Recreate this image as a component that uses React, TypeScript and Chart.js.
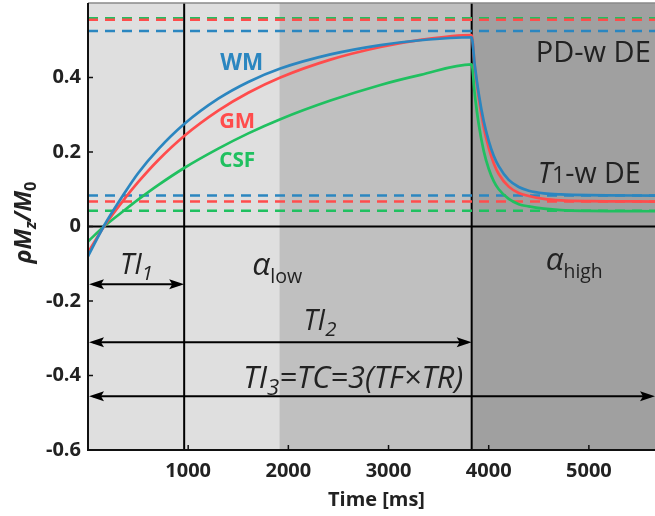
import React, { useEffect, useRef } from "react";
import { Chart, registerables } from "chart.js";

Chart.register(...registerables);

// ---- data ----
const timeMs = [0, 160, 370, 500, 700, 960, 1300, 1600, 1920, 2420, 2920, 3320, 3830, 3860, 3900, 3950, 4000, 4050, 4100, 4200, 4300, 4400, 4550, 4720, 5000, 5660];
const wmSignal = [-0.08, 0.002, 0.092, 0.143, 0.207, 0.275, 0.343, 0.388, 0.424, 0.462, 0.487, 0.5, 0.508, 0.435, 0.357, 0.283, 0.23, 0.19, 0.162, 0.125, 0.106, 0.096, 0.089, 0.086, 0.084, 0.083];
const gmSignal = [-0.07, 0.0, 0.076, 0.119, 0.178, 0.243, 0.311, 0.359, 0.4, 0.448, 0.482, 0.501, 0.514, 0.432, 0.347, 0.267, 0.211, 0.17, 0.141, 0.107, 0.09, 0.082, 0.074, 0.07, 0.068, 0.067];
const csfSignal = [-0.04, 0.0, 0.045, 0.072, 0.111, 0.157, 0.209, 0.25, 0.288, 0.338, 0.38, 0.407, 0.435, 0.357, 0.275, 0.203, 0.155, 0.122, 0.1, 0.074, 0.06, 0.054, 0.048, 0.044, 0.042, 0.041];
const tissueNames = ["WM", "GM", "CSF"];
const tissueColors = ["#2b86c0", "#ff4c4c", "#20c060"];
const pdSteadyState = [0.525, 0.555, 0.559];
const t1SteadyState = [0.083, 0.067, 0.042];
const xTicks = [1000, 2000, 3000, 4000, 5000];
const yTicks = [-0.6, -0.4, -0.2, 0, 0.2, 0.4];
const xRange = [0, 5660];
const yRange = [-0.6, 0.6];
const phaseStarts = [0, 1910, 3830];
const phaseFills = ["#dfdfdf", "#c0c0c0", "#a0a0a0"];
const inversionTimes = [960, 3830, 5660];
const arrowLevels = [-0.155, -0.311, -0.456];

const FAMILY = "'Open Sans', sans-serif";
type Seg = { t: string; s?: number; it?: boolean; b?: boolean; dy?: number };
const fontOf = (g: Seg, size: number) =>
  `${g.it ? "italic " : ""}${g.b ? "bold " : ""}${size * (g.s ?? 1)}px ${FAMILY}`;

function drawRich(ctx: CanvasRenderingContext2D, segs: Seg[], x: number, y: number, width: number, color: string, align: "left" | "center" = "left") {
  let w100 = 0;
  for (const g of segs) {
    ctx.font = fontOf(g, 100);
    w100 += ctx.measureText(g.t).width;
  }
  const size = (100 * width) / w100;
  let cx = align === "center" ? x - width / 2 : x;
  ctx.fillStyle = color;
  ctx.textAlign = "left";
  ctx.textBaseline = "alphabetic";
  for (const g of segs) {
    ctx.font = fontOf(g, size);
    ctx.fillText(g.t, cx, y + (g.dy ?? 0) * size);
    cx += ctx.measureText(g.t).width;
  }
}

type Note = { segs: Seg[]; t: number; v: number; w: number; color: string };
const notes: Note[] = [
  { segs: [{ t: "WM", b: true }], t: 1320, v: 0.42, w: 43, color: tissueColors[0] },
  { segs: [{ t: "GM", b: true }], t: 1310, v: 0.264, w: 36, color: tissueColors[1] },
  { segs: [{ t: "CSF", b: true }], t: 1310, v: 0.16, w: 36, color: tissueColors[2] },
  { segs: [{ t: "PD-w DE" }], t: 4470, v: 0.441, w: 115, color: "#222" },
  { segs: [{ t: "T", it: true }, { t: "1", s: 0.8 }, { t: "-w DE" }], t: 4490, v: 0.117, w: 103, color: "#222" },
  { segs: [{ t: "α", it: true }, { t: "low", s: 0.62, dy: 0.25 }], t: 1640, v: -0.13, w: 50, color: "#222" },
  { segs: [{ t: "α", it: true }, { t: "high", s: 0.62, dy: 0.25 }], t: 4570, v: -0.117, w: 57, color: "#222" },
  { segs: [{ t: "TI", it: true }, { t: "1", it: true, s: 0.72, dy: 0.22 }], t: 320, v: -0.127, w: 33, color: "#222" },
  { segs: [{ t: "TI", it: true }, { t: "2", it: true, s: 0.72, dy: 0.22 }], t: 2150, v: -0.277, w: 33, color: "#222" },
  { segs: [{ t: "TI", it: true }, { t: "3", it: true, s: 0.72, dy: 0.22 }, { t: "=TC=3(TF×TR)", it: true }], t: 1550, v: -0.433, w: 220, color: "#222" },
];

function arrow(ctx: CanvasRenderingContext2D, x0: number, x1: number, y: number) {
  const L = 15, H = 5;
  ctx.strokeStyle = "#000";
  ctx.fillStyle = "#000";
  ctx.lineWidth = 2;
  ctx.beginPath();
  ctx.moveTo(x0 + 4, y);
  ctx.lineTo(x1 - 4, y);
  ctx.stroke();
  ctx.beginPath();
  ctx.moveTo(x0, y);
  ctx.lineTo(x0 + L, y - H);
  ctx.lineTo(x0 + L - 3, y);
  ctx.lineTo(x0 + L, y + H);
  ctx.closePath();
  ctx.fill();
  ctx.beginPath();
  ctx.moveTo(x1, y);
  ctx.lineTo(x1 - L, y - H);
  ctx.lineTo(x1 - L + 3, y);
  ctx.lineTo(x1 - L, y + H);
  ctx.closePath();
  ctx.fill();
}

const overlay = {
  id: "overlay",
  beforeDatasetsDraw(chart: any) {
    const { ctx, chartArea: a, scales } = chart;
    const x = scales.x, y = scales.y;
    ctx.save();
    for (let i = 0; i < phaseStarts.length; i++) {
      const x0 = x.getPixelForValue(phaseStarts[i]);
      const x1 = i + 1 < phaseStarts.length ? x.getPixelForValue(phaseStarts[i + 1]) : a.right;
      ctx.fillStyle = phaseFills[i];
      ctx.fillRect(x0, a.top, x1 - x0, a.bottom - a.top);
    }
    ctx.strokeStyle = "#000";
    ctx.lineWidth = 2;
    const y0 = y.getPixelForValue(0);
    ctx.beginPath();
    ctx.moveTo(a.left, y0);
    ctx.lineTo(a.right, y0);
    ctx.stroke();
    for (const t of inversionTimes.slice(0, 2)) {
      const px = x.getPixelForValue(t);
      ctx.beginPath();
      ctx.moveTo(px, a.top);
      ctx.lineTo(px, a.bottom);
      ctx.stroke();
    }
    ctx.restore();
  },
  afterDatasetsDraw(chart: any) {
    const { ctx, chartArea: a, scales } = chart;
    const x = scales.x, y = scales.y;
    ctx.save();
    ctx.strokeStyle = "#8a8a8a";
    ctx.lineWidth = 1.5;
    ctx.beginPath();
    ctx.moveTo(a.left, a.top);
    ctx.lineTo(a.right, a.top);
    ctx.stroke();
    ctx.strokeStyle = "#111";
    ctx.lineWidth = 2;
    ctx.beginPath();
    ctx.moveTo(a.left, a.top);
    ctx.lineTo(a.left, a.bottom);
    ctx.lineTo(a.right, a.bottom);
    ctx.stroke();
    ctx.lineWidth = 1.5;
    for (const v of xTicks) {
      const px = x.getPixelForValue(v);
      ctx.beginPath();
      ctx.moveTo(px, a.bottom);
      ctx.lineTo(px, a.bottom - 5);
      ctx.stroke();
    }
    for (const v of yTicks) {
      const py = y.getPixelForValue(v);
      ctx.beginPath();
      ctx.moveTo(a.left, py);
      ctx.lineTo(a.left + 5, py);
      ctx.stroke();
    }
    for (let i = 0; i < inversionTimes.length; i++) {
      const x1 = Math.min(x.getPixelForValue(inversionTimes[i]), a.right);
      arrow(ctx, a.left + 1, x1, y.getPixelForValue(arrowLevels[i]));
    }
    for (const n of notes) {
      drawRich(ctx, n.segs, x.getPixelForValue(n.t), y.getPixelForValue(n.v), n.w, n.color);
    }
    drawRich(ctx, [{ t: "Time [ms]", b: true }], x.getPixelForValue(2880), 506, 97, "#222", "center");
    ctx.translate(31, (a.top + a.bottom) / 2 - 4);
    ctx.rotate(-Math.PI / 2);
    drawRich(
      ctx,
      [
        { t: "ρ", b: true, it: true },
        { t: "M", b: true, it: true },
        { t: "z", b: true, it: true, s: 0.7, dy: 0.22 },
        { t: "/", b: true, it: true },
        { t: "M", b: true, it: true },
        { t: "0", b: true, s: 0.7, dy: 0.22 },
      ],
      0,
      0,
      82,
      "#222",
      "center"
    );
    ctx.restore();
  },
};

export default function App() {
  const ref = useRef<HTMLCanvasElement | null>(null);
  useEffect(() => {
    if (!ref.current) return;
    Chart.defaults.font.family = FAMILY;
    const series = [wmSignal, gmSignal, csfSignal];
    const datasets: any[] = [];
    series.forEach((vals, i) => {
      datasets.push({
        label: tissueNames[i],
        data: timeMs.map((t, k) => ({ x: t, y: vals[k] })),
        borderColor: tissueColors[i],
        borderWidth: 2.7,
        pointRadius: 0,
        cubicInterpolationMode: "monotone",
        order: 1,
      });
    });
    [pdSteadyState, t1SteadyState].forEach((levels, j) => {
      levels.forEach((lv, i) => {
        datasets.push({
          label: `${tissueNames[i]} ${j === 0 ? "PD" : "T1"} steady state`,
          data: [
            { x: xRange[0], y: lv },
            { x: xRange[1], y: lv },
          ],
          borderColor: tissueColors[i],
          borderWidth: 2.5,
          borderDash: [10, 7],
          pointRadius: 0,
          order: 2,
        });
      });
    });
    const chart = new Chart(ref.current, {
      type: "line",
      data: { datasets },
      options: {
        animation: false,
        responsive: false,
        devicePixelRatio: 1,
        layout: { padding: { top: 3, right: 0, left: 0, bottom: 0 } },
        plugins: { legend: { display: false }, tooltip: { enabled: false } },
        scales: {
          x: {
            type: "linear",
            min: xRange[0],
            max: xRange[1],
            grid: { display: false, drawTicks: false },
            border: { display: false },
            afterBuildTicks: (s: any) => {
              s.ticks = xTicks.map((v) => ({ value: v }));
            },
            afterFit: (s: any) => {
              s.height = 66;
              s.paddingLeft = 0;
              s.paddingRight = 0;
            },
            ticks: {
              autoSkip: false,
              maxRotation: 0,
              padding: 9,
              color: "#222",
              font: { size: 20, weight: "bold", family: FAMILY },
              callback: (v: any) => String(v),
            },
          },
          y: {
            type: "linear",
            min: yRange[0],
            max: yRange[1],
            grid: { display: false, drawTicks: false },
            border: { display: false },
            afterBuildTicks: (s: any) => {
              s.ticks = yTicks.map((v) => ({ value: v }));
            },
            afterFit: (s: any) => {
              s.width = 88;
              s.paddingTop = 0;
              s.paddingBottom = 0;
            },
            ticks: {
              padding: 7,
              color: "#222",
              font: { size: 20, weight: "bold", family: FAMILY },
              callback: (v: any) => {
                const n = Number(v);
                if (Math.abs(n) < 1e-9) return "0";
                return n.toFixed(1);
              },
            },
          },
        },
      },
      plugins: [overlay],
    } as any);
    return () => chart.destroy();
  }, []);
  return (
    <div style={{ position: "absolute", left: 0, top: 0, width: 655, height: 516, background: "#fff" }}>
      <canvas ref={ref} width={655} height={516} />
    </div>
  );
}
